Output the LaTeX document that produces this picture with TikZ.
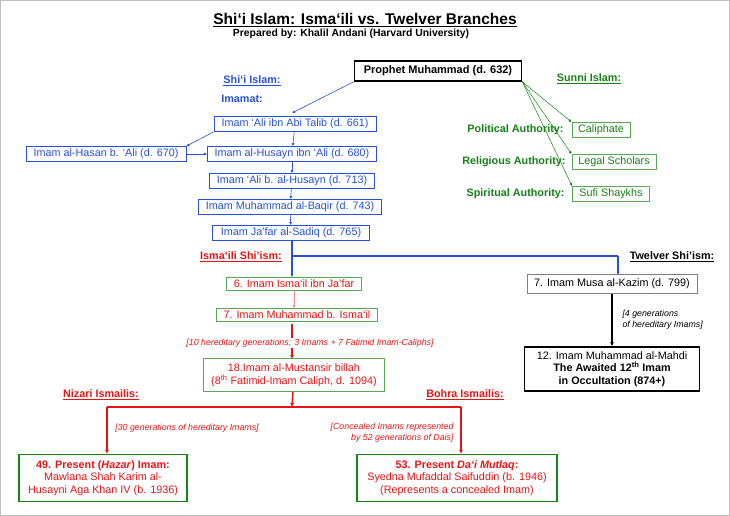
\documentclass[tikz,border=0pt]{standalone}
\usepackage{fontspec}
\setmainfont{Liberation Sans}
\usetikzlibrary{arrows.meta}
\definecolor{bl}{RGB}{40,80,220}
\definecolor{gr}{RGB}{20,130,20}
\definecolor{rd}{RGB}{230,20,20}
\begin{document}
\begin{tikzpicture}[x=1pt,y=-1pt,
 bx/.style={draw=bl,text=bl,font=\fontsize{10.8}{12}\selectfont,inner sep=2.5pt,line width=0.7pt},
 gx/.style={draw=gr!70,text=gr,font=\fontsize{10.8}{12}\selectfont,inner sep=2.5pt,line width=0.8pt},
 rx/.style={draw=gr!70,text=rd,font=\fontsize{10.8}{12.5}\selectfont,inner sep=2.5pt,line width=0.8pt,align=center},
 lab/.style={font=\bfseries\fontsize{10.8}{12}\selectfont},
 note/.style={text=rd,font=\itshape\fontsize{8.8}{11}\selectfont,align=center},
 ba/.style={-{Latex[length=3pt,width=3pt]},draw=bl,line width=0.6pt},
 ga/.style={-{Latex[length=3pt,width=3pt]},draw=gr,line width=0.5pt},
 ra/.style={-{Latex[length=4pt,width=4pt]},draw=rd,line width=1.6pt}]
\useasboundingbox (0,0) rectangle (730,516);
\draw[gray!50,line width=1pt] (0.5,0.5) rectangle (729.5,515.5);
\node[font=\bfseries\fontsize{15.5}{17}\selectfont] (t) at (365,20) {\underline{Shi‘i Islam: Isma‘ili vs. Twelver Branches}};
\node[font=\bfseries\fontsize{10.4}{12}\selectfont] (st) at (351,34) {Prepared by: Khalil Andani (Harvard University)};
\node[draw,line width=1.4pt,font=\bfseries\fontsize{11}{12}\selectfont,minimum width=167pt,minimum height=20pt,inner sep=2pt] (p) at (438,71) {Prophet Muhammad (d. 632)};
\node[lab,text=bl] (sl) at (252,81) {\underline{Shi‘i Islam:}};
\node[lab,text=bl] (im) at (242,99) {Imamat:};
\node[bx,minimum width=162pt] (a1) at (295,124) {Imam ‘Ali ibn Abi Talib (d. 661)};
\node[bx,minimum width=160pt] (h) at (106,154) {Imam al-Hasan b. ‘Ali (d. 670)};
\node[bx,minimum width=169pt] (a2) at (292,154) {Imam al-Husayn ibn ‘Ali (d. 680)};
\node[bx,minimum width=165pt] (a3) at (292,181) {Imam ‘Ali b. al-Husayn (d. 713)};
\node[bx,minimum width=183pt] (a4) at (290,207) {Imam Muhammad al-Baqir (d. 743)};
\node[bx,minimum width=157pt] (a5) at (291,233) {Imam Ja’far al-Sadiq (d. 765)};
\draw[ba] (p.south west) -- (292,113);
\draw[ba] (a1.south west) -- (h.north east);
\draw[ba] (h) -- (a2);
\draw[ba] (a1) -- (a2);
\draw[ba] (a2) -- (a3);
\draw[ba] (a3) -- (a4);
\draw[ba] (a4) -- (a5);
% Sunni
\node[lab,text=gr] (su) at (589,79) {\underline{Sunni Islam:}};
\node[gx,minimum width=58pt] (c1) at (601,130) {Caliphate};
\node[gx,minimum width=84pt] (c2) at (614,162) {Legal Scholars};
\node[gx,minimum width=77pt] (c3) at (611,194) {Sufi Shaykhs};
\node[lab,text=gr,anchor=east] (l1) at (567,130) {Political Authority:};
\node[lab,text=gr,anchor=east] (l2) at (569,162) {Religious Authority:};
\node[lab,text=gr,anchor=east] (l3) at (568,194) {Spiritual Authority:};
\draw[ga] (p.south east) -- (c1.north west);
\draw[ga] (p.south east) -- (c2.north west);
\draw[ga] (p.south east) -- (c3.north west);
% split
\coordinate (s0) at (292,256);
\coordinate (s1) at (618,256);
\node[lab,text=rd] (is) at (241,257) {\underline{Isma‘ili Shi’ism:}};
\node[lab] (tw) at (672,257) {\underline{Twelver Shi’ism:}};
\node[rx,minimum width=135pt] (i6) at (294,284) {6. Imam Isma‘il ibn Ja’far};
\node[rx,minimum width=161pt] (i7) at (297,315) {7. Imam Muhammad b. Isma‘il};
\node[rx,minimum width=181pt,minimum height=33pt,inner sep=1pt] (i18) at (294,375) {18.Imam al-Mustansir billah\\(8\textsuperscript{th} Fatimid-Imam Caliph, d. 1094)};
\draw[draw=bl,line width=1.6pt] (a5.south -| s0) -- (s0) -- (s1);
\draw[-{Latex[length=3pt,width=3pt]},draw=bl,line width=1.6pt] (s0) -- (i6.north -| s0);
\draw[-{Latex[length=3pt,width=3pt]},draw=bl,line width=1.6pt] (s1) -- (618,275);
\draw[-{Latex[length=3pt,width=3pt]},draw=rd!50,line width=0.6pt] (i6) -- (i6 |- i7.north);
\draw[ra] (292,324) -- (292,359);
\node[note,fill=white,inner sep=0.5pt] (n10) at (310,343) {[10 hereditary generations: 3 Imams + 7 Fatimid Imam-Caliphs]};
% Twelver
\node[draw=gray,line width=1pt,font=\fontsize{10.8}{12}\selectfont,minimum width=170pt,minimum height=19pt] (m7) at (612,284) {7. Imam Musa al-Kazim (d. 799)};
\node[draw,line width=1.4pt,font=\fontsize{10.8}{12.5}\selectfont,minimum width=175pt,minimum height=44pt,align=center,inner sep=1pt] (m12) at (612,369) {12. Imam Muhammad al-Mahdi\\\textbf{The Awaited 12\textsuperscript{th} Imam}\\\textbf{in Occultation (874+)}};
\draw[-{Latex[length=4pt,width=4pt]},line width=1.2pt] (m7) -- (m12);
\node[font=\itshape\fontsize{8.8}{11}\selectfont,anchor=west,align=left] (n4) at (619,320) {[4 generations\\of hereditary Imams]};
% branches
\node[lab,text=rd] (nz) at (101,395) {\underline{Nizari Ismailis:}};
\node[lab,text=rd] (bh) at (465,395) {\underline{Bohra Ismailis:}};
\coordinate (b0) at (292,407);
\coordinate (bl0) at (107,407);
\coordinate (br0) at (461,407);
\node[rx,draw=gr,line width=1.2pt,minimum width=168pt,minimum height=47pt,inner sep=1pt] (n49) at (103,478) {\textbf{49. Present (\textit{Hazar}) Imam:}\\Mawlana Shah Karim al-\\Husayni Aga Khan IV (b. 1936)};
\node[rx,draw=gr,line width=1.2pt,minimum width=200pt,minimum height=47pt,inner sep=1pt] (n53) at (457,478) {\textbf{53. Present \textit{Da‘i Mutlaq}:}\\Syedna Mufaddal Saifuddin (b. 1946)\\(Represents a concealed Imam)};
\draw[ra] (i18) -- (b0);
\draw[draw=rd,line width=1.6pt] (bl0) -- (br0);
\draw[ra] (bl0) -- (bl0 |- n49.north);
\draw[ra] (br0) -- (br0 |- n53.north);
\node[note] (n30) at (187,428) {[30 generations of hereditary Imams]};
\node[note,align=right,anchor=east] (nc) at (457,433) {[Concealed Imams represented\\by 52 generations of Dais]};
\end{tikzpicture}
\end{document}
